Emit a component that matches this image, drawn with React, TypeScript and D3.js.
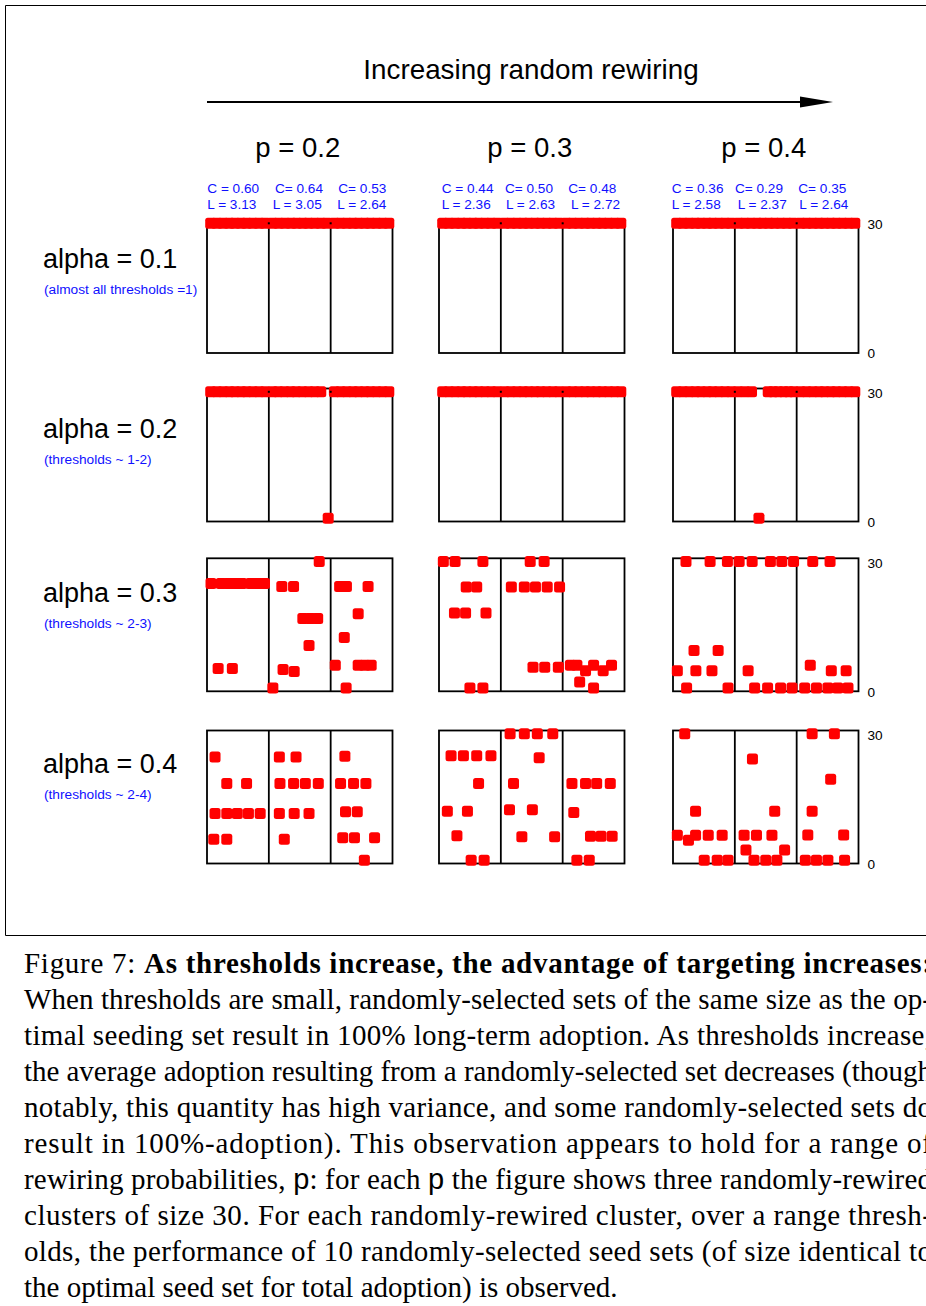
import React, { useEffect, useRef } from 'react';
import * as d3 from 'd3';

// [position of the seed set inside its cluster (0-10), final adoption (0-30)]
type Pt = [number, number];

const rewiringP = ['p = 0.2', 'p = 0.3', 'p = 0.4'];
const alphaLabels = ['alpha = 0.1', 'alpha = 0.2', 'alpha = 0.3', 'alpha = 0.4'];
const thresholdNotes = [
  '(almost all thresholds =1)',
  '(thresholds ~ 1-2)',
  '(thresholds ~ 2-3)',
  '(thresholds ~ 2-4)',
];
const clusteringC = [
  ['C = 0.60', 'C= 0.64', 'C= 0.53'],
  ['C = 0.44', 'C= 0.50', 'C= 0.48'],
  ['C = 0.36', 'C= 0.29', 'C= 0.35'],
];
const pathLengthL = [
  ['L = 3.13', 'L = 3.05', 'L = 2.64'],
  ['L = 2.36', 'L = 2.63', 'L = 2.72'],
  ['L = 2.58', 'L = 2.37', 'L = 2.64'],
];
const adoptionTicks = [0, 30];

// every seed set reaches the whole cluster
const allAdopt: Pt[] = [[0.6, 30], [1.6, 30], [2.6, 30], [3.6, 30], [4.5, 30], [5.5, 30], [6.4, 30], [7.4, 30], [8.4, 30], [9.4, 30]];

const alpha01: Pt[][][] = [
  [allAdopt, allAdopt, allAdopt],
  [allAdopt, allAdopt, allAdopt],
  [allAdopt, allAdopt, allAdopt],
];

const alpha02: Pt[][][] = [
  [
    allAdopt,
    [[0.6, 30], [1.5, 30], [2.5, 30], [3.5, 30], [4.4, 30], [5.4, 30], [6.4, 30], [7.4, 30], [8.4, 30], [9.6, 0]],
    allAdopt,
  ],
  [allAdopt, allAdopt, allAdopt],
  [
    allAdopt,
    [[0.5, 30], [1.6, 30], [2.7, 30], [3.9, 0], [5.4, 30], [6.2, 30], [7.0, 30], [7.9, 30], [8.7, 30], [9.5, 30]],
    allAdopt,
  ],
];

const alpha03: Pt[][][] = [
  [
    [[0.65, 24.8], [2.3, 24.8], [3.5, 24.8], [4.6, 24.8], [5.6, 24.8], [7.1, 24.8], [8.2, 24.8], [9.3, 24.8], [1.8, 4.6], [4.1, 4.6]],
    [[0.65, 0], [2.1, 24.1], [4.0, 24.1], [8.15, 30], [5.5, 16.5], [6.7, 16.5], [7.9, 16.5], [6.5, 10.1], [2.3, 4.4], [4.1, 3.9]],
    [[0.75, 5.4], [1.45, 24.1], [2.55, 24.1], [6.05, 24.1], [4.45, 17.6], [2.2, 12.0], [4.45, 5.4], [5.5, 5.4], [6.55, 5.4], [2.5, 0]],
  ],
  [
    [[0.7, 30], [2.6, 30], [7.1, 30], [4.4, 24.0], [6.1, 24.0], [2.5, 17.8], [4.3, 17.8], [7.6, 17.8], [5.0, 0], [7.1, 0]],
    [[4.75, 30], [7.0, 30], [1.7, 24.0], [3.8, 24.0], [5.6, 24.0], [7.5, 24.0], [9.5, 24.0], [5.2, 4.9], [7.1, 4.9], [9.3, 4.9]],
    [[1.25, 5.4], [2.3, 5.4], [3.7, 4.1], [5.0, 5.4], [6.55, 4.1], [7.9, 5.4], [2.75, 1.45], [5.0, 0]],
  ],
  [
    [[2.1, 30], [6.0, 30], [8.8, 30], [3.4, 8.9], [7.3, 8.9], [0.7, 4.1], [3.7, 4.1], [6.3, 4.1], [2.2, 0], [8.9, 0]],
    [[0.7, 30], [2.8, 30], [5.75, 30], [7.6, 30], [9.5, 30], [2.15, 4.1], [3.2, 0], [5.3, 0], [7.4, 0], [9.25, 0]],
    [[2.6, 30], [5.4, 30], [2.2, 5.4], [5.6, 4.1], [8.0, 4.1], [1.3, 0], [3.2, 0], [5.05, 0], [6.65, 0], [8.3, 0]],
  ],
];

const alpha04: Pt[][][] = [
  [
    [[1.3, 24.5], [3.2, 18.2], [6.4, 18.2], [1.3, 11.1], [3.2, 11.1], [4.9, 11.1], [6.7, 11.1], [8.6, 11.1], [1.1, 5.0], [3.2, 5.0]],
    [[1.7, 24.5], [4.4, 24.5], [1.8, 18.2], [4.0, 18.2], [5.9, 18.2], [8.0, 18.2], [1.7, 11.1], [4.1, 11.1], [6.5, 11.1], [2.5, 5.0]],
    [[2.3, 24.7], [1.6, 18.2], [3.7, 18.2], [5.7, 18.2], [2.4, 11.5], [4.3, 11.5], [1.95, 5.3], [3.85, 5.3], [7.1, 5.3], [5.45, 0]],
  ],
  [
    [[1.95, 24.8], [3.95, 24.8], [6.1, 24.8], [8.4, 24.8], [6.4, 18.2], [1.35, 11.6], [4.6, 11.6], [2.9, 5.8], [5.2, 0], [7.3, 0]],
    [[1.5, 30], [3.8, 30], [5.9, 30], [8.4, 30], [6.2, 24.3], [2.05, 18.2], [1.4, 12.0], [5.1, 12.0], [3.4, 5.55], [8.7, 5.55]],
    [[1.5, 18.2], [3.7, 18.2], [5.5, 18.2], [7.7, 18.2], [1.8, 11.3], [4.5, 5.7], [6.2, 5.7], [8.0, 5.7], [2.3, 0], [4.3, 0]],
  ],
  [
    [[1.9, 30], [3.65, 11.6], [0.7, 5.9], [3.65, 5.9], [5.7, 5.9], [7.95, 5.9], [2.5, 4.75], [5.05, 0], [7.15, 0], [8.9, 0]],
    [[2.85, 24.0], [6.45, 11.6], [1.5, 5.9], [3.5, 5.9], [6.0, 5.9], [1.8, 2.4], [8.05, 2.4], [3.1, 0], [5.0, 0], [6.8, 0]],
    [[2.5, 30], [6.1, 30], [5.5, 19.2], [2.5, 11.6], [1.8, 6.0], [7.6, 6.0], [1.4, 0], [3.2, 0], [5.05, 0], [7.75, 0]],
  ],
];

const alphaRows = [alpha01, alpha02, alpha03, alpha04];

// caption, one entry per printed line
const captionLines: { parts: { t: string; bold?: boolean; sans?: boolean }[]; justify: boolean }[] = [
  { parts: [{ t: 'Figure 7: ' }, { t: 'As thresholds increase, the advantage of targeting increases:', bold: true }], justify: true },
  { parts: [{ t: 'When thresholds are small, randomly-selected sets of the same size as the op-' }], justify: true },
  { parts: [{ t: 'timal seeding set result in 100% long-term adoption. As thresholds increase,' }], justify: true },
  { parts: [{ t: 'the average adoption resulting from a randomly-selected set decreases (though' }], justify: true },
  { parts: [{ t: 'notably, this quantity has high variance, and some randomly-selected sets do' }], justify: true },
  { parts: [{ t: 'result in 100%-adoption). This observation appears to hold for a range of' }], justify: true },
  { parts: [{ t: 'rewiring probabilities, ' }, { t: 'p', sans: true }, { t: ': for each ' }, { t: 'p', sans: true }, { t: ' the figure shows three randomly-rewired' }], justify: true },
  { parts: [{ t: 'clusters of size 30. For each randomly-rewired cluster, over a range thresh-' }], justify: true },
  { parts: [{ t: 'olds, the performance of 10 randomly-selected seed sets (of size identical to' }], justify: true },
  { parts: [{ t: 'the optimal seed set for total adoption) is observed.' }], justify: false },
];

const SANS = '"Liberation Sans", Arial, Helvetica, sans-serif';
const SERIF = '"Liberation Serif", "Times New Roman", serif';

export default function App() {
  const svgRef = useRef<SVGSVGElement>(null);

  useEffect(() => {
    document.body.style.margin = '0';
    if (!svgRef.current) return;
    const svg = d3.select(svgRef.current);
    svg.selectAll('*').remove();

    const panelLeft = [207, 439, 673];
    const panelW = 185.5;
    const rowTop = [220, 388.5, 558.3, 730.5];
    const rowH = 133;
    const inset = 3.3;
    const mark = 11;

    // frame
    svg.append('path')
      .attr('d', 'M926,5.5 H5.5 V935.5 H926')
      .attr('fill', 'none')
      .attr('stroke', '#000')
      .attr('stroke-width', 1);

    // header
    svg.append('text')
      .attr('x', 531).attr('y', 79)
      .attr('text-anchor', 'middle')
      .style('font-family', SANS).style('font-size', '27.8px')
      .text('Increasing random rewiring');

    svg.append('line')
      .attr('x1', 207).attr('x2', 806).attr('y1', 102).attr('y2', 102)
      .attr('stroke', '#000').attr('stroke-width', 2);
    svg.append('path')
      .attr('d', 'M833,102 L800,96.5 L800,107.5 Z')
      .attr('fill', '#000');

    rewiringP.forEach((label, p) => {
      svg.append('text')
        .attr('x', panelLeft[p] + panelW / 2 - 2).attr('y', 157)
        .attr('text-anchor', 'middle')
        .style('font-family', SANS).style('font-size', '27.5px')
        .text(label);
    });

    const cX = [[207.3, 275, 338.3], [441.7, 505, 568.3], [671.7, 735, 798.3]];
    const lX = [[207.3, 272.7, 337.3], [441.7, 506, 571], [671.7, 737.7, 799.3]];
    clusteringC.forEach((row, p) => {
      row.forEach((t, c) => {
        svg.append('text')
          .attr('x', cX[p][c]).attr('y', 193)
          .attr('fill', '#1010ff')
          .style('font-family', SANS).style('font-size', '13.6px')
          .text(t);
        svg.append('text')
          .attr('x', lX[p][c]).attr('y', 208.5)
          .attr('fill', '#1010ff')
          .style('font-family', SANS).style('font-size', '13.6px')
          .text(pathLengthL[p][c]);
      });
    });

    const labelY = [268, 438, 602, 773];
    alphaLabels.forEach((t, r) => {
      svg.append('text')
        .attr('x', 43).attr('y', labelY[r])
        .style('font-family', SANS).style('font-size', '27px')
        .text(t);
      svg.append('text')
        .attr('x', 44).attr('y', labelY[r] + 26)
        .attr('fill', '#1010ff')
        .style('font-family', SANS).style('font-size', '13.7px')
        .text(thresholdNotes[r]);
    });

    alphaRows.forEach((row, r) => {
      const top = rowTop[r];
      const y = d3.scaleLinear().domain([0, 30]).range([top + rowH - inset, top + inset]);

      row.forEach((clusters, p) => {
        const x0 = panelLeft[p];
        const x = d3.scaleLinear().domain([0, 30]).range([x0, x0 + panelW]);
        const g = svg.append('g');

        g.append('rect')
          .attr('x', x(0)).attr('y', top)
          .attr('width', x(30) - x(0)).attr('height', rowH)
          .attr('fill', 'none').attr('stroke', '#000').attr('stroke-width', 1.8);

        g.selectAll('.divider')
          .data([10, 20])
          .enter()
          .append('line')
          .attr('x1', d => x(d)).attr('x2', d => x(d))
          .attr('y1', top).attr('y2', top + rowH)
          .attr('stroke', '#000').attr('stroke-width', 1.8);

        const pts = clusters.flatMap((pts, c) => pts.map(d => [c * 10 + d[0], d[1]] as Pt));
        g.selectAll('.mark')
          .data(pts)
          .enter()
          .append('rect')
          .attr('x', d => x(d[0]) - mark / 2)
          .attr('y', d => y(d[1]) - mark / 2)
          .attr('width', mark).attr('height', mark)
          .attr('rx', 2.5)
          .attr('fill', '#ff0000');

        if (r < 2) {
          g.selectAll('.dot')
            .data([10, 20])
            .enter()
            .append('rect')
            .attr('x', d => x(d) - 1).attr('y', y(30) - 1)
            .attr('width', 2).attr('height', 2)
            .attr('fill', '#000');
        }

        if (p === 2) {
          const axis = g.append('g')
            .attr('transform', `translate(${x(30)},0)`)
            .call(d3.axisRight(y).tickValues(adoptionTicks).tickSize(0).tickPadding(9).tickFormat(d3.format('d')));
          axis.select('.domain').remove();
          axis.selectAll('text')
            .attr('dy', (d: any) => (d === 0 ? '0.6em' : '0.4em'))
            .style('font-family', SANS).style('font-size', '13.6px')
            .attr('fill', '#000');
        }
      });
    });

    // caption
    captionLines.forEach((line, i) => {
      const txt = svg.append('text')
        .attr('x', 24).attr('y', 973 + i * 36)
        .style('font-family', SERIF).style('font-size', '29px')
        .attr('fill', '#000');
      if (line.justify) {
        txt.attr('textLength', 908).attr('lengthAdjust', 'spacing');
      }
      line.parts.forEach(part => {
        txt.append('tspan')
          .style('font-weight', part.bold ? 'bold' : 'normal')
          .style('font-family', part.sans ? SANS : SERIF)
          .text(part.t);
      });
    });
  }, []);

  return (
    <svg
      ref={svgRef}
      width={926}
      height={1306}
      style={{ display: 'block', background: '#fff' }}
    />
  );
}
